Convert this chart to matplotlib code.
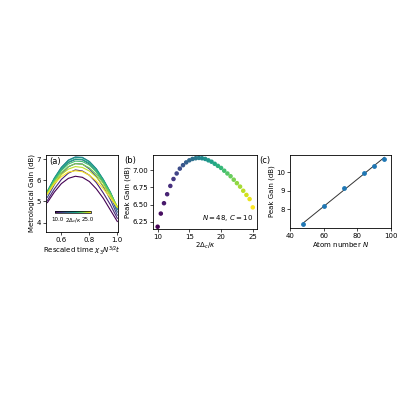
import matplotlib
matplotlib.use("Agg")
import matplotlib.pyplot as plt
import numpy as np

plt.rcParams['font.size'] = 5
plt.rcParams['font.family'] = ['DejaVu Sans']

# panel (a)
t_a = [0.5, 0.55, 0.6, 0.65, 0.7, 0.75, 0.8, 0.85, 0.9, 0.95, 1.0]
delta_a = [10, 11.5, 13, 14.5, 16, 17.5, 19, 20.5, 22, 23.5, 25]
gain_a = [
    [4.95, 5.45, 5.85, 6.10, 6.20, 6.15, 5.95, 5.60, 5.15, 4.60, 4.05],
    [5.05, 5.60, 6.05, 6.35, 6.50, 6.45, 6.25, 5.90, 5.40, 4.85, 4.20],
    [5.20, 5.80, 6.30, 6.65, 6.80, 6.78, 6.55, 6.20, 5.70, 5.10, 4.35],
    [5.35, 5.98, 6.50, 6.85, 7.00, 6.98, 6.78, 6.42, 5.90, 5.27, 4.50],
    [5.45, 6.10, 6.62, 6.97, 7.12, 7.10, 6.90, 6.55, 6.03, 5.40, 4.62],
    [5.50, 6.12, 6.62, 6.95, 7.10, 7.08, 6.90, 6.55, 6.05, 5.45, 4.68],
    [5.48, 6.08, 6.55, 6.88, 7.02, 7.00, 6.83, 6.50, 6.02, 5.45, 4.72],
    [5.45, 6.02, 6.47, 6.78, 6.92, 6.90, 6.73, 6.42, 5.96, 5.42, 4.74],
    [5.42, 5.96, 6.38, 6.66, 6.80, 6.77, 6.60, 6.30, 5.87, 5.36, 4.75],
    [5.38, 5.90, 6.28, 6.54, 6.66, 6.62, 6.45, 6.16, 5.75, 5.28, 4.75],
    [5.35, 5.84, 6.18, 6.40, 6.46, 6.42, 6.25, 5.98, 5.60, 5.18, 4.72],
]

# panel (b)
delta_b = [10, 10.5, 11, 11.5, 12, 12.5, 13, 13.5, 14, 14.5, 15, 15.5, 16, 16.5, 17,
           17.5, 18, 18.5, 19, 19.5, 20, 20.5, 21, 21.5, 22, 22.5, 23, 23.5, 24, 24.5, 25]
peak_b = [6.18, 6.37, 6.52, 6.65, 6.77, 6.87, 6.95, 7.02, 7.07, 7.11, 7.14, 7.16, 7.17,
          7.175, 7.17, 7.16, 7.14, 7.12, 7.09, 7.06, 7.03, 6.99, 6.95, 6.91, 6.86, 6.81,
          6.76, 6.70, 6.64, 6.58, 6.46]

# panel (c)
atoms_c = [48, 60, 72, 84, 90, 96]
peak_c = [7.2, 8.2, 9.15, 9.97, 10.35, 10.75]

fig = plt.figure(figsize=(4, 4), dpi=100)
cmap = plt.get_cmap('viridis')
norm = plt.Normalize(10, 25)

ax1 = fig.add_axes([0.115, 0.42, 0.18, 0.193])
for d, g in zip(delta_a, gain_a):
    ax1.plot(t_a, g, color=cmap(norm(d)), lw=0.8)
ax1.set_xlim(0.49, 1.005)
ax1.set_ylim(3.55, 7.22)
ax1.set_xticks([0.6, 0.8, 1.0])
ax1.set_yticks([4, 5, 6, 7])
ax1.set_xlabel(r'Rescaled time $\chi_3 N^{3/2}t$', labelpad=1)
ax1.set_ylabel('Metrological Gain (dB)', labelpad=1)
ax1.text(0.05, 0.97, '(a)', transform=ax1.transAxes, va='top', fontsize=6)
cax = ax1.inset_axes([0.12, 0.245, 0.5, 0.03])
sm = matplotlib.cm.ScalarMappable(norm=norm, cmap=cmap)
cb = fig.colorbar(sm, cax=cax, orientation='horizontal')
cb.set_ticks([])
cb.outline.set_linewidth(0.5)
ax1.text(0.08, 0.2, '10.0', va='top', ha='left', fontsize=4, transform=ax1.transAxes)
ax1.text(0.38, 0.2, r'$2\Delta_c/\kappa$', va='top', ha='center', fontsize=4, transform=ax1.transAxes)
ax1.text(0.66, 0.2, '25.0', va='top', ha='right', fontsize=4, transform=ax1.transAxes)

ax2 = fig.add_axes([0.383, 0.428, 0.26, 0.185])
ax2.scatter(delta_b, peak_b, c=delta_b, cmap=cmap, norm=norm, s=5)
ax2.set_xlim(9.3, 25.7)
ax2.set_ylim(6.15, 7.22)
ax2.set_xticks([10, 15, 20, 25])
ax2.set_yticks([6.25, 6.5, 6.75, 7.0])
ax2.set_xlabel(r'$2\Delta_c/\kappa$', labelpad=1)
ax2.set_ylabel('Peak Gain (dB)', labelpad=1)
ax2.text(0.96, 0.12, r'$N=48$, $C=10$', transform=ax2.transAxes, ha='right', fontsize=5)
ax2.text(-0.28, 0.98, '(b)', transform=ax2.transAxes, va='top', fontsize=6)

ax3 = fig.add_axes([0.725, 0.43, 0.253, 0.183])
fit = np.polyfit(atoms_c, peak_c, 1)
xs = np.array([atoms_c[0], atoms_c[-1]])
ax3.plot(xs, np.polyval(fit, xs), color='#333333', lw=0.7)
ax3.scatter(atoms_c, peak_c, color='#1f77b4', s=6, zorder=3)
ax3.set_xlim(40, 100)
ax3.set_ylim(7.0, 10.95)
ax3.set_xticks([40, 60, 80, 100])
ax3.set_yticks([8, 9, 10])
ax3.set_xlabel(r'Atom number $N$', labelpad=1)
ax3.set_ylabel('Peak Gain (dB)', labelpad=1)
ax3.text(-0.3, 0.98, '(c)', transform=ax3.transAxes, va='top', fontsize=6)

for ax in (ax1, ax2, ax3):
    ax.tick_params(length=2, width=0.5, pad=1.5)
    for s in ax.spines.values():
        s.set_linewidth(0.6)

fig.savefig('out.png', dpi=100)
